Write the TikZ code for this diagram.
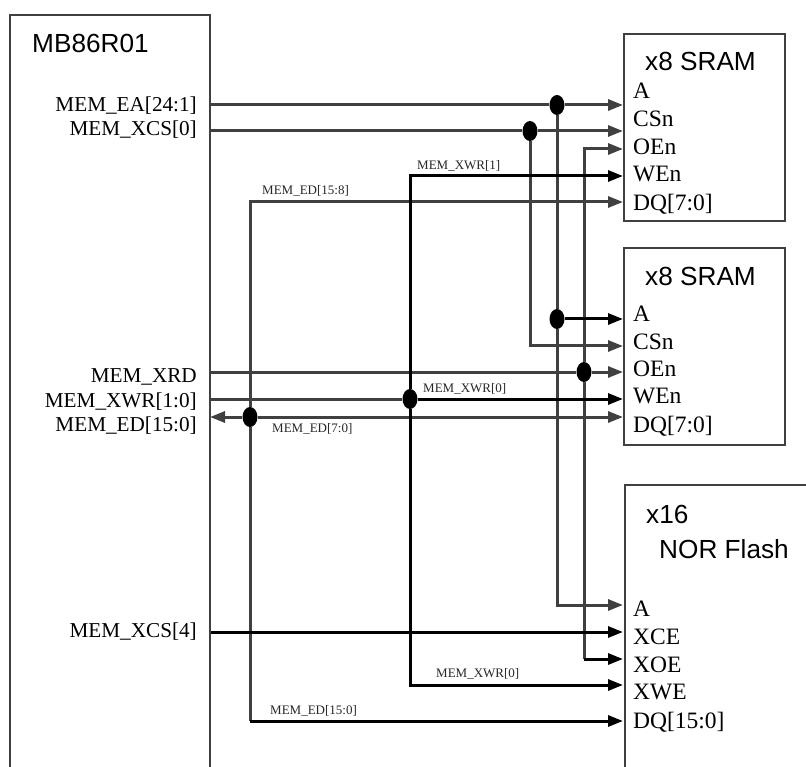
\documentclass[tikz,border=0pt]{standalone}
\usepackage{fontspec}
\setmainfont{Liberation Serif}
\setsansfont{Liberation Sans}
\usetikzlibrary{arrows.meta,shapes.geometric}
\definecolor{wiregray}{HTML}{404040}
\tikzset{
  chipline/.style={draw=wiregray,line width=2.4pt},
  graywire/.style={draw=wiregray,line width=3pt},
  blackwire/.style={draw=black,line width=3pt},
  graytip/.style={-{Triangle[length=15pt,width=11pt,fill=wiregray]}},
  blacktip/.style={-{Triangle[length=15pt,width=11pt,fill=black]}},
  junction/.style={ellipse,fill=black,minimum width=15pt,minimum height=20pt,inner sep=0pt},
  sig/.style={anchor=base east,inner sep=0pt,font=\fontsize{21.2}{22}\selectfont},
  pinlabel/.style={anchor=base west,inner sep=0pt,font=\fontsize{23.5}{24}\selectfont},
  netlabel/.style={anchor=base west,inner sep=0pt,text=black!85,font=\fontsize{13}{13}\selectfont},
  chiptitle/.style={anchor=base west,inner sep=0pt,font=\sffamily\fontsize{26.2}{27}\selectfont}
}
\begin{document}
\begin{tikzpicture}[x=1pt,y=-1pt]
\useasboundingbox (0,0) rectangle (806,767);
% chips
\draw[chipline] (10,767) -- (10,15) -- (210,15) -- (210,767);
\node[chipline,rectangle,anchor=north west,inner sep=0pt,minimum width=161pt,minimum height=187pt] (sramA) at (623,33) {};
\node[chipline,rectangle,anchor=north west,inner sep=0pt,minimum width=161pt,minimum height=197pt] (sramB) at (623,247) {};
\draw[chipline] (625,767) -- (625,485) -- (806,485);
\node[chiptitle] (tmb) at (32,53) {MB86R01};
\node[chiptitle] (ta) at (645,71) {x8 SRAM};
\node[chiptitle] (tb) at (645,286) {x8 SRAM};
\node[chiptitle] (tc) at (646,523) {x16};
\node[chiptitle] (td) at (659,558) {NOR Flash};
% signal names
\node[sig] (lEA) at (197,112) {MEM\_EA[24:1]};
\node[sig] (lCS) at (197,136) {MEM\_XCS[0]};
\node[sig] (lRD) at (197,382) {MEM\_XRD};
\node[sig] (lWR) at (197,407) {MEM\_XWR[1:0]};
\node[sig] (lED) at (197,431) {MEM\_ED[15:0]};
\node[sig] (lCF) at (197,637) {MEM\_XCS[4]};
% pin labels
\node[pinlabel] (p1) at (633,99) {A};
\node[pinlabel] (p2) at (633,127) {CSn};
\node[pinlabel] (p3) at (633,155) {OEn};
\node[pinlabel] (p4) at (633,182) {WEn};
\node[pinlabel] (p5) at (633,211) {DQ[7:0]};
\node[pinlabel] (p6) at (633,322) {A};
\node[pinlabel] (p7) at (633,349) {CSn};
\node[pinlabel] (p8) at (633,377) {OEn};
\node[pinlabel] (p9) at (633,403) {WEn};
\node[pinlabel] (p10) at (633,432) {DQ[7:0]};
\node[pinlabel] (p11) at (633,616) {A};
\node[pinlabel] (p12) at (633,644) {XCE};
\node[pinlabel] (p13) at (633,672) {XOE};
\node[pinlabel] (p14) at (633,699) {XWE};
\node[pinlabel] (p15) at (633,728) {DQ[15:0]};
% net labels
\node[netlabel] (n1) at (417,170) {MEM\_XWR[1]};
\node[netlabel] (n2) at (262,195) {MEM\_ED[15:8]};
\node[netlabel] (n3) at (423,392) {MEM\_XWR[0]};
\node[netlabel] (n4) at (272,432) {MEM\_ED[7:0]};
\node[netlabel] (n5) at (436,677) {MEM\_XWR[0]};
\node[netlabel] (n6) at (270,714) {MEM\_ED[15:0]};
% junctions
\node[junction] (jAa) at (557,105) {};
\node[junction] (jCS) at (530,131) {};
\node[junction] (jAb) at (557,319) {};
\node[junction] (jOE) at (584,372) {};
\node[junction] (jWE) at (410,399) {};
\node[junction] (jED) at (250,417) {};
% wire ends
\coordinate (oEA) at (211,105);
\coordinate (oCS) at (211,131);
\coordinate (oRD) at (211,372);
\coordinate (oWR) at (211,399);
\coordinate (oED) at (210,417);
\coordinate (oCF) at (211,632);
\coordinate (aA) at (623,105);
\coordinate (aC) at (623,131);
\coordinate (aO) at (623,149);
\coordinate (aW) at (623,176);
\coordinate (aD) at (623,202);
\coordinate (bA) at (623,319);
\coordinate (bC) at (623,346);
\coordinate (bO) at (623,372);
\coordinate (bW) at (623,399);
\coordinate (bD) at (623,417);
\coordinate (cA) at (623,605);
\coordinate (cE) at (623,632);
\coordinate (cO) at (623,659);
\coordinate (cW) at (623,685);
\coordinate (cD) at (623,721);
\coordinate (kO) at (584,659);
\coordinate (kD) at (250,721);
% gray wires
\draw[graywire] (oEA) -- (jAa);
\draw[graywire,graytip] (jAa) -- (aA);
\draw[graywire] (oCS) -- (jCS);
\draw[graywire,graytip] (jCS) -- (aC);
\draw[graywire] (jAa) -- (jAb);
\draw[graywire,graytip] (jAb) |- (cA);
\draw[graywire,graytip] (jCS) |- (bC);
\draw[graywire,graytip] (jOE) |- (aO);
\draw[graywire] (oRD) -- (jOE);
\draw[graywire,graytip] (jOE) -- (bO);
\draw[graywire] (oWR) -- (jWE);
\draw[graywire,graytip] (jED) -- (oED);
\draw[graywire,graytip] (jED) -- (bD);
\draw[graywire,graytip] (jED) |- (aD);
\draw[graywire] (jED) -- (kD);
\draw[graywire] (jOE) -- (kO);
% black wires
\draw[blackwire,blacktip] (jAb) -- (bA);
\draw[blackwire,blacktip] (jWE) -- (bW);
\draw[blackwire,blacktip] (jWE) |- (aW);
\draw[blackwire,blacktip] (jWE) |- (cW);
\draw[blackwire,blacktip] (oCF) -- (cE);
\draw[blackwire,blacktip] (kO) -- (cO);
\draw[blackwire,blacktip] (kD) -- (cD);
\end{tikzpicture}
\end{document}
